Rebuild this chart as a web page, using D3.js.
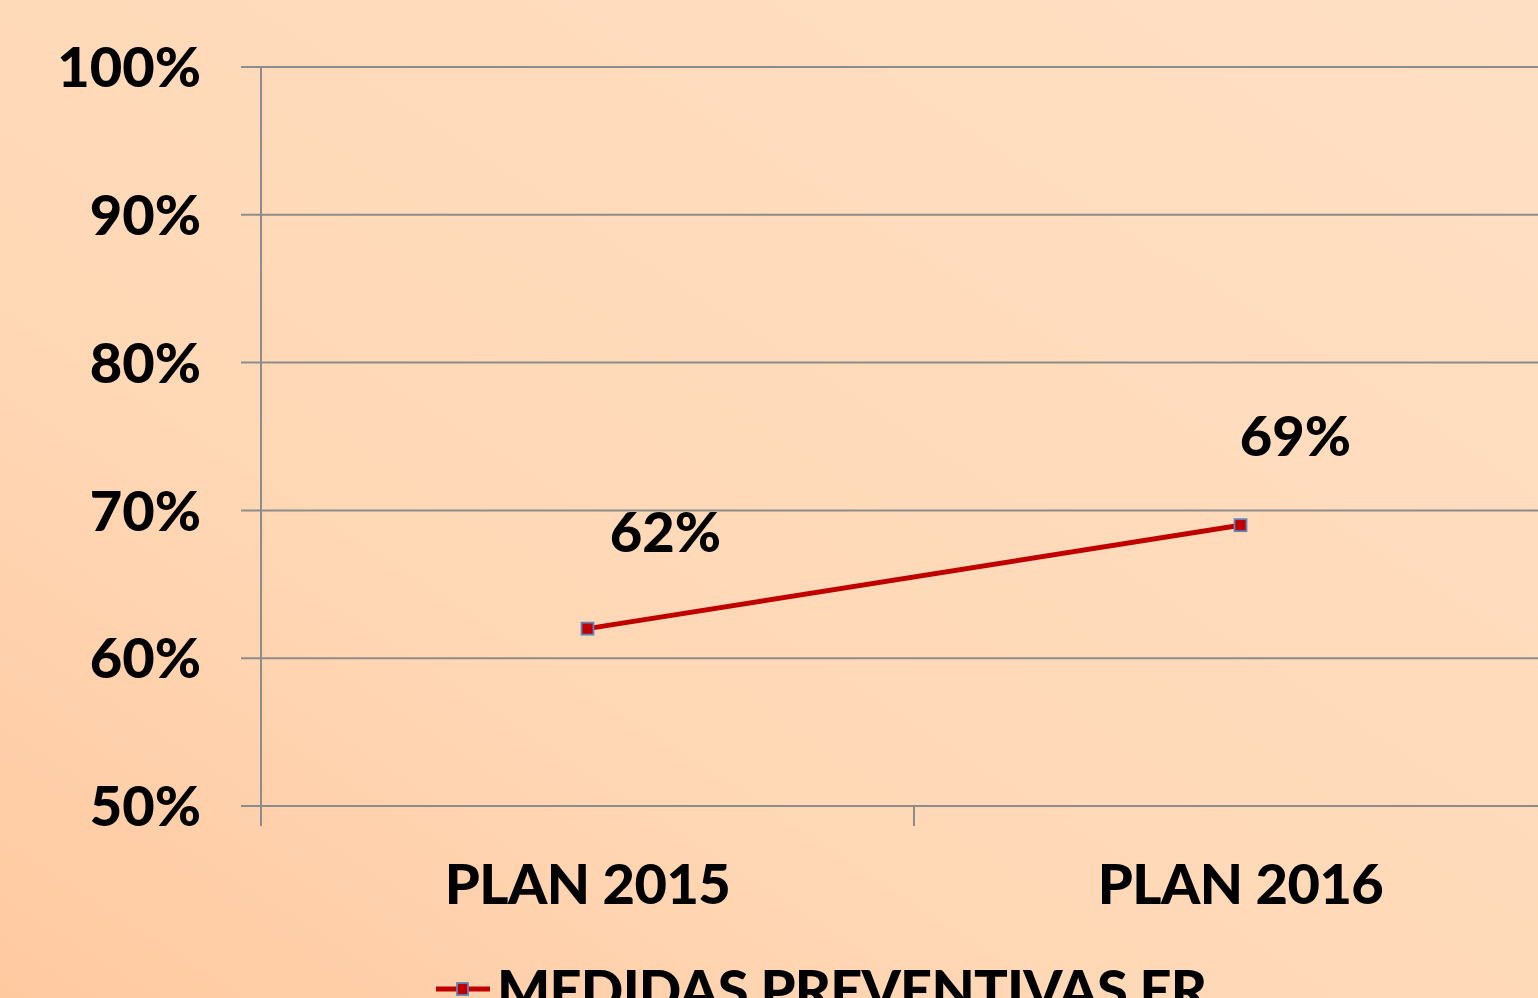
<!DOCTYPE html>
<html><head><meta charset="utf-8">
<script src="https://cdn.jsdelivr.net/npm/d3@7"></script>
<style>html,body{margin:0;padding:0;overflow:hidden;}svg{display:block;}</style>
</head><body>
<script>
const categories = ["PLAN 2015", "PLAN 2016"];
const seriesName = "MEDIDAS PREVENTIVAS ER";
const values = [0.62, 0.69];
const valueLabels = ["62%", "69%"];
const yTicks = [0.5, 0.6, 0.7, 0.8, 0.9, 1.0];

const W = 1538, H = 998;
const svg = d3.select("body").append("svg").attr("width", W).attr("height", H);
const defs = svg.append("defs");
const g = defs.append("linearGradient").attr("id","bg")
  .attr("x1","0").attr("y1","1").attr("x2","1").attr("y2","0");
g.append("stop").attr("offset","0").attr("stop-color","#FFC9A0");
g.append("stop").attr("offset","0.35").attr("stop-color","#FFD8B6");
g.append("stop").attr("offset","1").attr("stop-color","#FFDFC3");
svg.append("rect").attr("width",W).attr("height",H).attr("fill","url(#bg)");

const pLeft = 261, pRight = 1567, pTop = 67, pBottom = 806;
const x = d3.scaleBand().domain(categories).range([pLeft, pRight]);
const y = d3.scaleLinear().domain([0.5, 1.0]).range([pBottom, pTop]);
const font = "Lato, 'Open Sans', sans-serif";
const gridColor = "#8C8C8C";
const fs = 56;

// gridlines
svg.append("g").selectAll("line").data(yTicks).join("line")
  .attr("x1", pLeft - 20).attr("x2", W)
  .attr("y1", d => y(d)).attr("y2", d => y(d))
  .attr("stroke", gridColor).attr("stroke-width", 2);

// y axis
const yAxis = svg.append("g").attr("transform", `translate(${pLeft},0)`)
  .call(d3.axisLeft(y).tickValues(yTicks).tickFormat(d3.format(".0%")).tickSize(0).tickPadding(60));
yAxis.select(".domain").remove();
yAxis.selectAll("text").attr("font-family", font).attr("font-weight", "900")
  .attr("font-size", fs).attr("fill", "#000").attr("dy", "0.35em");
svg.append("line").attr("x1", pLeft).attr("x2", pLeft).attr("y1", pTop).attr("y2", pBottom + 20)
  .attr("stroke", gridColor).attr("stroke-width", 2);

// x axis
const xAxis = svg.append("g").attr("transform", `translate(0,${pBottom})`)
  .call(d3.axisBottom(x).tickSize(0).tickPadding(58));
xAxis.select(".domain").remove();
xAxis.selectAll("text").attr("font-family", font).attr("font-weight", "900")
  .attr("font-size", fs).attr("fill", "#000").attr("letter-spacing", "-0.5px");
const bounds = [x(categories[1])];
svg.append("g").selectAll("line").data(bounds).join("line")
  .attr("x1", d => d).attr("x2", d => d).attr("y1", pBottom).attr("y2", pBottom + 20)
  .attr("stroke", gridColor).attr("stroke-width", 2);

// line
const pts = categories.map((c, i) => [x(c) + x.bandwidth() / 2, y(values[i])]);
svg.append("path").attr("d", d3.line()(pts)).attr("fill", "none")
  .attr("stroke", "#C00000").attr("stroke-width", 5);
svg.append("g").selectAll("rect").data(pts).join("rect")
  .attr("x", d => d[0] - 6).attr("y", d => d[1] - 6).attr("width", 12).attr("height", 12)
  .attr("fill", "#C00000").attr("stroke", "#5B86C0").attr("stroke-width", 1.8);

// data labels (layout offsets from each point)
const labelDx = [78, 55], labelDy = [-97, -89];
svg.append("g").selectAll("text").data(pts).join("text")
  .attr("x", (d, i) => d[0] + labelDx[i]).attr("y", (d, i) => d[1] + labelDy[i])
  .attr("text-anchor", "middle").attr("dy", "0.36em")
  .attr("font-family", font).attr("font-weight", "900").attr("font-size", fs)
  .text((d, i) => valueLabels[i]);

// legend
const ly = 989;
svg.append("line").attr("x1", 436).attr("x2", 490).attr("y1", ly).attr("y2", ly)
  .attr("stroke", "#C00000").attr("stroke-width", 5);
svg.append("rect").attr("x", 457).attr("y", ly - 6).attr("width", 11).attr("height", 12)
  .attr("fill", "#C00000").attr("stroke", "#5B86C0").attr("stroke-width", 1.8);
svg.append("text").attr("x", 497).attr("y", 1010)
  .attr("font-family", font).attr("font-weight", "900").attr("font-size", fs)
  .attr("letter-spacing", "-0.8px")
  .text(seriesName);
</script>
</body></html>
